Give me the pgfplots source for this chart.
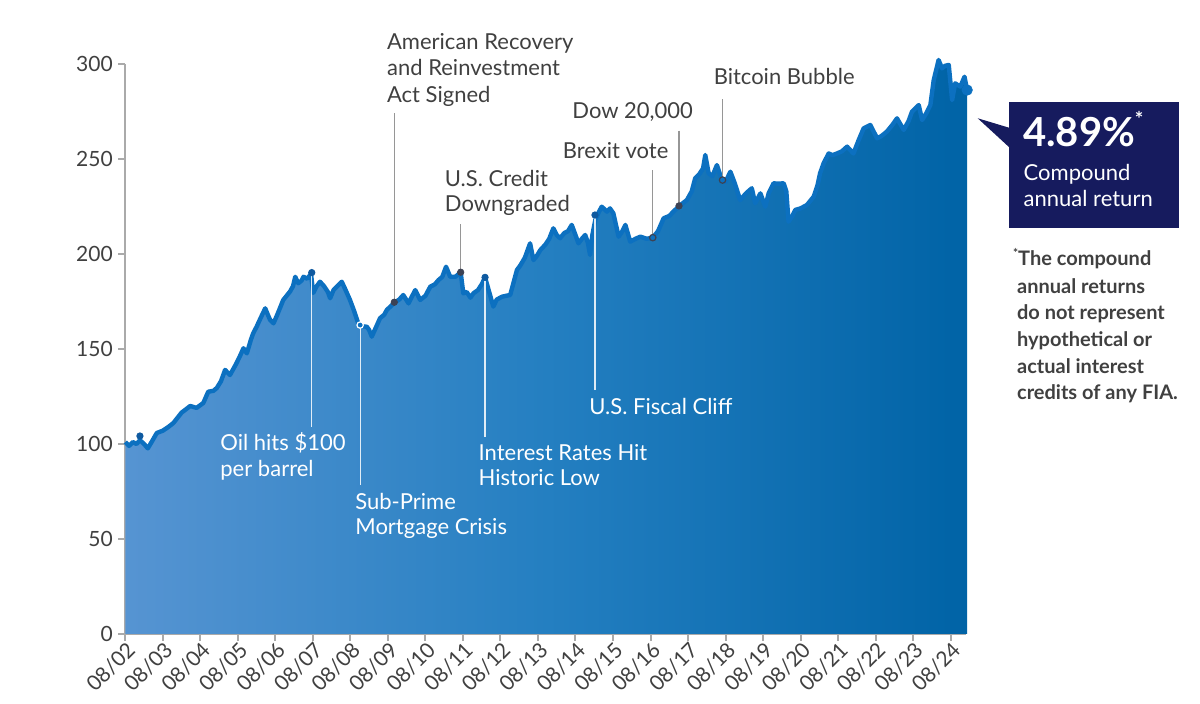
\documentclass[border=0pt]{standalone}
\usepackage{pgfplots}
\pgfplotsset{compat=1.18}
\usepackage{pgfplotstable}
\usepackage{fontspec}
\setmainfont{Lato}
\definecolor{areaL}{RGB}{86,148,210}
\definecolor{areaM}{RGB}{36,127,193}
\definecolor{areaR}{RGB}{0,99,166}
\definecolor{lineC}{RGB}{12,112,192}
\definecolor{navy}{RGB}{22,27,94}
\definecolor{txt}{RGB}{64,64,64}
\definecolor{axgray}{RGB}{170,170,170}
\definecolor{leadgray}{RGB}{150,150,150}
\definecolor{dotblue}{RGB}{15,90,160}
\definecolor{dotgray}{RGB}{60,66,84}

\pgfplotstableread{
t v
0.00 101
0.10 99
0.20 101
0.30 100
0.39 102
0.50 100
0.60 97.7
0.70 101
0.84 105.8
1.00 107
1.15 109
1.28 111
1.40 114
1.50 116.5
1.60 118
1.73 120
1.90 119
2.08 121.6
2.21 127.5
2.35 128
2.44 129.5
2.55 133
2.66 139
2.79 136.3
2.95 142
3.05 146
3.15 150.4
3.24 147.7
3.35 155
3.41 158.3
3.50 161.7
3.60 166
3.73 171.4
3.80 168
3.86 165.3
3.95 163.5
4.05 168
4.21 175.8
4.30 178
4.39 180.2
4.47 183
4.53 188
4.61 184.6
4.70 186
4.75 188
4.85 187
4.95 189.5
5.01 179.5
5.10 183
5.19 185.4
5.30 183
5.40 180
5.46 176.7
5.55 181
5.64 182.8
5.77 185.4
5.85 182
5.99 175.8
6.10 170
6.21 163.5
6.30 162
6.44 161.7
6.50 160
6.57 156.5
6.65 160
6.79 166.2
6.90 168
6.97 170.5
7.10 173
7.19 174.6
7.30 176
7.41 178.4
7.55 174
7.65 178
7.73 181
7.86 175.8
8.00 178
8.13 182.8
8.25 184
8.35 186.3
8.45 188
8.55 193.3
8.66 188
8.80 188
8.94 190.4
9.01 179.3
9.10 180
9.20 177
9.28 179.3
9.40 181
9.50 184
9.59 187.7
9.70 180
9.81 172.3
9.90 176
10.04 177.5
10.15 178
10.26 178.4
10.35 185
10.44 191.6
10.53 194
10.65 198
10.79 205.6
10.88 196.8
10.97 199
11.06 202
11.20 205
11.30 208
11.41 213.5
11.50 210
11.59 208.3
11.70 211
11.80 212
11.90 215.3
12.00 210
12.08 205.6
12.17 208
12.26 210
12.33 206
12.39 199.5
12.45 210
12.53 218
12.62 222
12.70 224.9
12.84 222.3
12.92 224
13.01 221.4
13.15 209.1
13.25 212
13.33 215.3
13.46 206.5
13.60 208
13.73 209.1
13.90 208
14.06 208.6
14.20 212
14.35 218.8
14.50 220
14.61 222.3
14.77 225.3
14.97 228.4
15.10 233
15.19 239.8
15.30 242
15.40 245
15.46 252.1
15.55 242.5
15.65 241
15.77 246.8
15.90 239
16.00 238
16.13 243.3
16.25 237
16.39 228.4
16.55 232
16.70 234.6
16.79 226.7
16.93 231.9
17.06 224.9
17.15 232
17.28 237.2
17.40 237
17.55 237.2
17.62 233
17.68 217
17.78 220
17.86 223.2
18.00 224
18.17 225.8
18.35 230.2
18.45 236
18.52 242.5
18.62 248
18.75 252.9
18.85 252
18.97 252.9
19.10 254
19.24 256.5
19.41 252.9
19.55 260
19.68 266.1
19.86 267.9
20.04 260.9
20.15 262
20.30 264.4
20.45 268
20.57 271.4
20.75 265.3
20.88 270
20.97 274.9
21.15 278.4
21.24 270.5
21.35 274
21.46 278.4
21.55 291.6
21.68 302.1
21.77 297.7
21.85 299
21.95 299.5
22.04 281
22.12 289.8
22.26 288.1
22.37 293.3
22.44 286.3
}\datatable

\begin{document}
\begin{tikzpicture}
\path[use as bounding box] (0,0) rectangle (600pt,352pt);
\begin{axis}[
  at={(62.65pt,35pt)}, anchor=south west,
  scale only axis, width=420.35pt, height=285pt,
  xmin=0, xmax=22.41, ymin=0, ymax=300,
  clip=false,
  axis lines=left,
  axis line style={-, draw=axgray, line width=1pt},
  tick align=outside,
  major tick length=3.6pt,
  tick style={draw=axgray, line width=1pt},
  ytick={0,50,100,150,200,250,300},
  xtick={0,1,...,22},
  xticklabels={08/02,08/03,08/04,08/05,08/06,08/07,08/08,08/09,08/10,08/11,08/12,08/13,08/14,08/15,08/16,08/17,08/18,08/19,08/20,08/21,08/22,08/23,08/24},
  /pgf/number format/assume math mode=true,
  yticklabel style={font=\fontsize{10.5}{12}\selectfont, text=txt, inner sep=2.5pt},
  xticklabel style={font=\fontsize{10.5}{12}\selectfont, text=txt, rotate=45, anchor=east, inner sep=1pt, xshift=1.5pt, yshift=-4pt},
]
\addplot[draw=none, left color=areaL, right color=areaR, middle color=areaM] table[x=t,y=v] {\datatable} \closedcycle;
\addplot[lineC, line width=2.2pt, line join=round] table[x=t,y=v] {\datatable};

% leader lines (grey, above the curve)
\draw[leadgray, line width=0.6pt] (axis cs:7.17,274.1) -- (axis cs:7.17,174.6);
\draw[leadgray, line width=0.6pt] (axis cs:8.94,215.6) -- (axis cs:8.94,190.4);
\draw[leadgray, line width=0.6pt] (axis cs:14.06,244.2) -- (axis cs:14.06,208.6);
\draw[leadgray, line width=0.6pt] (axis cs:14.76,264.9) -- (axis cs:14.76,225.3);
\draw[leadgray, line width=0.6pt] (axis cs:15.92,281.4) -- (axis cs:15.92,238.9);
% leader lines (white, inside the area)
\draw[white, opacity=0.85, line width=0.6pt] (axis cs:4.97,190.2) -- (axis cs:4.97,109.1);
\draw[white, opacity=0.85, line width=0.6pt] (axis cs:6.26,162.6) -- (axis cs:6.26,78.4);
\draw[white, opacity=0.85, line width=0.6pt] (axis cs:9.59,187.7) -- (axis cs:9.59,103.8);
\draw[white, opacity=0.85, line width=0.6pt] (axis cs:12.52,220.5) -- (axis cs:12.52,128.4);

% event dots
\addplot[only marks, mark=*, mark size=1.6pt, mark options={fill=dotblue, draw=dotblue}] coordinates {(0.39,104.2) (4.97,190.2) (9.59,187.7) (12.52,220.5)};
\addplot[only marks, mark=*, mark size=1.6pt, mark options={fill=dotgray, draw=dotgray}] coordinates {(7.17,174.6) (8.94,190.4) (14.76,225.3)};
\addplot[only marks, mark=*, mark size=1.6pt, mark options={fill=lineC, draw=dotgray, line width=0.6pt}] coordinates {(14.06,208.6) (15.92,238.9)};
\addplot[only marks, mark=*, mark size=1.6pt, mark options={fill=lineC, draw=white, line width=0.6pt}] coordinates {(6.26,162.6)};
\addplot[only marks, mark=*, mark size=2.6pt, mark options={fill=lineC, draw=lineC}] coordinates {(22.44,286.3)};
\end{axis}

% annotation texts (grey)
\begin{scope}[every node/.style={inner sep=0pt, anchor=base west, text=txt, font=\fontsize{11}{13}\selectfont}]
\node at (193.35pt,327pt) {American Recovery};
\node at (193.35pt,314pt) {and Reinvestment};
\node at (193.35pt,300.85pt) {Act Signed};
\node at (222.25pt,258.65pt) {U.S. Credit};
\node at (222.25pt,246.15pt) {Downgraded};
\node at (281.2pt,272.85pt) {Brexit vote};
\node at (286pt,292.5pt) {Dow 20,000};
\node at (356.7pt,309.5pt) {Bitcoin Bubble};
\end{scope}
% annotation texts (white)
\begin{scope}[every node/.style={inner sep=0pt, anchor=base west, text=white, font=\fontsize{11}{13}\selectfont}]
\node at (110pt,126.5pt) {Oil hits \$100};
\node at (110pt,113.65pt) {per barrel};
\node at (177.5pt,97.35pt) {Sub-Prime};
\node at (177.5pt,84.5pt) {Mortgage Crisis};
\node at (239.15pt,121.5pt) {Interest Rates Hit};
\node at (239.15pt,109pt) {Historic Low};
\node at (294.5pt,144.85pt) {U.S. Fiscal Cliff};
\end{scope}

% callout
\fill[navy] (488.85pt,292.85pt) -- (505pt,288pt) -- (505pt,278pt) -- cycle;
\fill[navy] (504.65pt,238pt) rectangle (589.5pt,301.15pt);
\node[inner sep=0pt, anchor=base west, text=white, font=\fontsize{20}{22}\selectfont\bfseries] at (511.35pt,278.65pt) {4.89\%\raisebox{0.5em}{\fontsize{10}{10}\selectfont *}};
\node[inner sep=0pt, anchor=base west, text=white, font=\fontsize{11}{13}\selectfont] at (511.65pt,261.5pt) {Compound};
\node[inner sep=0pt, anchor=base west, text=white, font=\fontsize{11}{13}\selectfont] at (511.65pt,248.65pt) {annual return};

% footnote
\begin{scope}[every node/.style={inner sep=0pt, anchor=base west, text=txt, font=\fontsize{10}{12}\selectfont\bfseries}]
\node at (506.35pt,219.15pt) {\raisebox{0.4em}{\fontsize{6}{6}\selectfont *}The compound};
\node at (508.35pt,205.35pt) {annual returns};
\node at (508.35pt,192pt) {do not represent};
\node at (508.35pt,178.65pt) {hypothetical or};
\node at (508.35pt,165.35pt) {actual interest};
\node at (508.35pt,152.35pt) {credits of any FIA.};
\end{scope}
\end{tikzpicture}
\end{document}
